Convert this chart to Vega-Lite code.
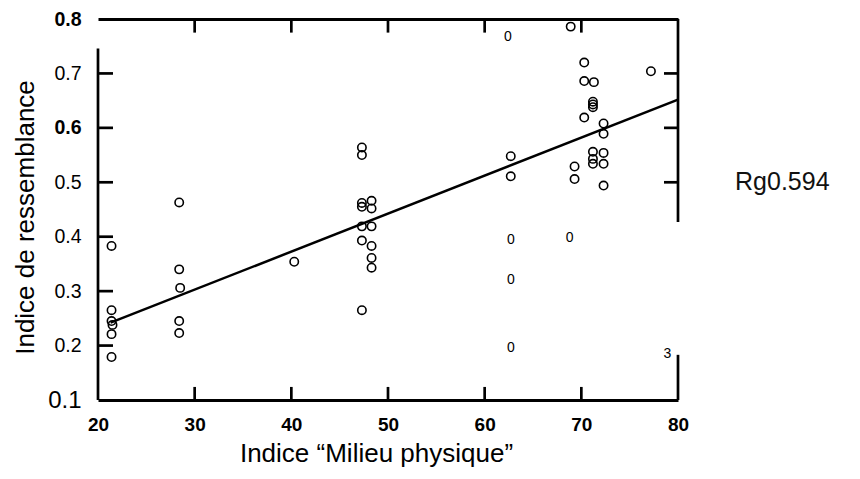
{
  "$schema": "https://vega.github.io/schema/vega-lite/v6.json",
  "width": 580,
  "height": 381,
  "autosize": {"type": "none"},
  "padding": {"left": 98, "top": 19, "right": 182, "bottom": 79},
  "background": "white",
  "config": {"view": {"stroke": null, "fill": null}, "font": "Liberation Sans", "axis": {"grid": false}},
  "datasets": {
    "circles": [
      {"x": 21.4, "y": 0.383}, {"x": 21.4, "y": 0.265}, {"x": 21.4, "y": 0.245}, {"x": 21.5, "y": 0.238}, {"x": 21.4, "y": 0.221}, {"x": 21.4, "y": 0.179},
      {"x": 28.4, "y": 0.463}, {"x": 28.4, "y": 0.340}, {"x": 28.5, "y": 0.306}, {"x": 28.4, "y": 0.245}, {"x": 28.4, "y": 0.223},
      {"x": 40.3, "y": 0.354},
      {"x": 47.3, "y": 0.564}, {"x": 47.3, "y": 0.550}, {"x": 47.3, "y": 0.462}, {"x": 47.3, "y": 0.455}, {"x": 47.3, "y": 0.419}, {"x": 47.3, "y": 0.393}, {"x": 47.3, "y": 0.265},
      {"x": 48.3, "y": 0.466}, {"x": 48.3, "y": 0.452}, {"x": 48.3, "y": 0.419}, {"x": 48.3, "y": 0.383}, {"x": 48.3, "y": 0.361}, {"x": 48.3, "y": 0.343},
      {"x": 62.7, "y": 0.548}, {"x": 62.7, "y": 0.511},
      {"x": 68.9, "y": 0.786},
      {"x": 69.3, "y": 0.529}, {"x": 69.3, "y": 0.506},
      {"x": 70.3, "y": 0.720}, {"x": 70.3, "y": 0.686}, {"x": 70.3, "y": 0.619},
      {"x": 71.3, "y": 0.684}, {"x": 71.2, "y": 0.648}, {"x": 71.2, "y": 0.643}, {"x": 71.2, "y": 0.638}, {"x": 71.2, "y": 0.556}, {"x": 71.2, "y": 0.543}, {"x": 71.2, "y": 0.534},
      {"x": 72.3, "y": 0.608}, {"x": 72.3, "y": 0.589}, {"x": 72.3, "y": 0.554}, {"x": 72.3, "y": 0.534}, {"x": 72.3, "y": 0.494},
      {"x": 77.2, "y": 0.704}
    ],
    "letters": [
      {"x": 62.4, "y": 0.767, "label": "0"},
      {"x": 62.7, "y": 0.394, "label": "0"},
      {"x": 62.7, "y": 0.320, "label": "0"},
      {"x": 62.7, "y": 0.195, "label": "0"},
      {"x": 68.8, "y": 0.398, "label": "0"},
      {"x": 78.9, "y": 0.184, "label": "3"}
    ],
    "fit": [{"x": 21.3, "y": 0.242}, {"x": 80, "y": 0.652}],
    "frame": [
      {"x": 20, "x2": 20, "y": 0.746, "y2": 0.1},
      {"x": 80, "x2": 80, "y": 0.8, "y2": 0.427},
      {"x": 80, "x2": 80, "y": 0.183, "y2": 0.1},
      {"x": 30, "x2": 30, "y": 0.1, "y2": 0.124}, {"x": 40, "x2": 40, "y": 0.1, "y2": 0.124}, {"x": 50, "x2": 50, "y": 0.1, "y2": 0.124}, {"x": 60, "x2": 60, "y": 0.1, "y2": 0.124}, {"x": 70, "x2": 70, "y": 0.1, "y2": 0.124},
      {"x": 30, "x2": 30, "y": 0.8, "y2": 0.775}, {"x": 40, "x2": 40, "y": 0.8, "y2": 0.775}, {"x": 50, "x2": 50, "y": 0.8, "y2": 0.775}, {"x": 60, "x2": 60, "y": 0.8, "y2": 0.775}, {"x": 70, "x2": 70, "y": 0.8, "y2": 0.775},
      {"x": 20, "x2": 21.55, "y": 0.2, "y2": 0.2}, {"x": 20, "x2": 21.55, "y": 0.3, "y2": 0.3}, {"x": 20, "x2": 21.55, "y": 0.4, "y2": 0.4},
      {"x": 20, "x2": 21.55, "y": 0.5, "y2": 0.5}, {"x": 20, "x2": 21.55, "y": 0.6, "y2": 0.6}, {"x": 20, "x2": 21.55, "y": 0.7, "y2": 0.7},
      {"x": 80, "x2": 78.55, "y": 0.5, "y2": 0.5}, {"x": 80, "x2": 78.55, "y": 0.6, "y2": 0.6}, {"x": 80, "x2": 78.55, "y": 0.7, "y2": 0.7}
    ],
    "stat": [{"x": 85.9, "y": 0.5, "label": "Rg0.594"}]
  },
  "layer": [
    {
      "data": {"name": "circles"},
      "mark": {"type": "point", "shape": "circle", "filled": false, "stroke": "black", "strokeWidth": 1.6, "size": 70, "opacity": 1},
      "encoding": {
        "x": {"field": "x", "type": "quantitative", "scale": {"domain": [20, 80], "nice": false, "zero": false},
          "axis": {"orient": "bottom", "values": [20, 30, 40, 50, 60, 70, 80], "format": "d",
            "domain": true, "domainColor": "black", "domainWidth": 3, "ticks": false,
            "labelFont": "Liberation Sans", "labelFontWeight": "bold", "labelFontSize": 19, "labelColor": "black", "labelPadding": 15, "labelFlush": false,
            "title": "Indice “Milieu physique”", "titleFont": "Liberation Sans", "titleFontSize": 26, "titleFontWeight": "normal", "titleColor": "black",
            "titleX": 278, "titleY": 61, "titleBaseline": "alphabetic", "titleAlign": "center"}},
        "y": {"field": "y", "type": "quantitative", "scale": {"domain": [0.1, 0.8], "nice": false, "zero": false},
          "axis": {"orient": "left", "values": [0.1, 0.2, 0.3, 0.4, 0.5, 0.6, 0.7, 0.8], "format": ".1f",
            "domain": false, "ticks": false,
            "labelFont": "Liberation Sans", "labelColor": "black", "labelPadding": 17, "labelBaseline": "middle", "labelFlush": false,
            "labelFontSize": {"condition": {"test": "datum.value < 0.15", "value": 24}, "value": 19.5},
            "labelFontWeight": {"condition": {"test": "datum.value > 0.75 || (datum.value > 0.55 && datum.value < 0.65)", "value": "bold"}, "value": "normal"},
            "title": "Indice de ressemblance", "titleFont": "Liberation Sans", "titleFontSize": 26, "titleFontWeight": "normal", "titleColor": "black",
            "titleX": -65, "titleY": 198, "titleBaseline": "alphabetic", "titleAngle": 270, "titleAlign": "center"}}
      }
    },
    {
      "data": {"name": "fit"},
      "mark": {"type": "line", "stroke": "black", "strokeWidth": 2.5},
      "encoding": {
        "x": {"field": "x", "type": "quantitative", "scale": {"domain": [20, 80], "nice": false, "zero": false},
          "axis": {"orient": "top", "values": [30, 40, 50, 60, 70], "labels": false, "title": null,
            "domain": true, "domainColor": "black", "domainWidth": 3, "ticks": false}},
        "y": {"field": "y", "type": "quantitative", "scale": {"domain": [0.1, 0.8], "nice": false, "zero": false}, "axis": null}
      }
    },
    {
      "data": {"name": "frame"},
      "mark": {"type": "rule", "stroke": "black", "strokeWidth": 2.7},
      "encoding": {
        "x": {"field": "x", "type": "quantitative", "scale": {"domain": [20, 80], "nice": false, "zero": false}, "axis": null},
        "x2": {"field": "x2"},
        "y": {"field": "y", "type": "quantitative", "scale": {"domain": [0.1, 0.8], "nice": false, "zero": false}, "axis": null},
        "y2": {"field": "y2"}
      }
    },
    {
      "data": {"name": "letters"},
      "mark": {"type": "text", "font": "Liberation Sans", "fontSize": 14, "fill": "black", "align": "center", "baseline": "middle"},
      "encoding": {
        "x": {"field": "x", "type": "quantitative", "scale": {"domain": [20, 80], "nice": false, "zero": false}, "axis": null},
        "y": {"field": "y", "type": "quantitative", "scale": {"domain": [0.1, 0.8], "nice": false, "zero": false}, "axis": null},
        "text": {"field": "label"}
      }
    },
    {
      "data": {"name": "stat"},
      "mark": {"type": "text", "font": "Liberation Sans", "fontSize": 25, "fill": "#111", "align": "left", "baseline": "middle"},
      "encoding": {
        "x": {"field": "x", "type": "quantitative", "scale": {"domain": [20, 80], "nice": false, "zero": false}, "axis": null},
        "y": {"field": "y", "type": "quantitative", "scale": {"domain": [0.1, 0.8], "nice": false, "zero": false}, "axis": null},
        "text": {"field": "label"}
      }
    }
  ],
  "resolve": {"axis": {"x": "independent", "y": "independent"}}
}
